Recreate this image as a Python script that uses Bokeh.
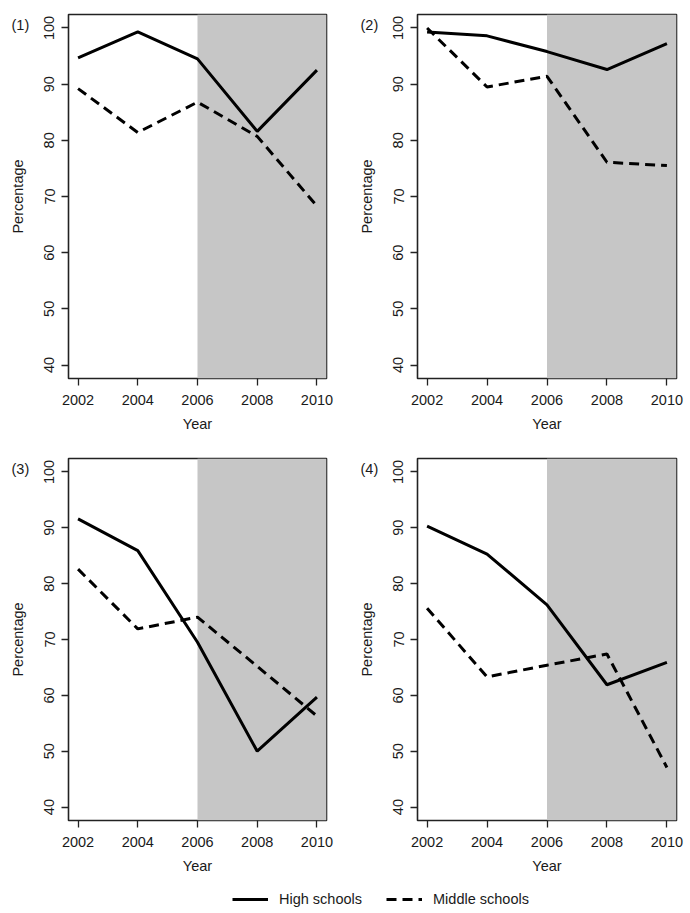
from bokeh.plotting import figure
from bokeh.models import BoxAnnotation, Title, Legend, LegendItem, FixedTicker, Range1d
from bokeh.layouts import column, row
from bokeh.embed import file_html
from bokeh.resources import INLINE

years = [2002, 2004, 2006, 2008, 2010]
panel_labels = ["(1)", "(2)", "(3)", "(4)"]
high_schools = [
    [94.7, 99.3, 94.5, 81.6, 92.5],
    [99.3, 98.6, 95.8, 92.6, 97.2],
    [91.6, 85.9, 69.5, 50.0, 59.7],
    [90.3, 85.3, 76.2, 61.9, 65.9],
]
middle_schools = [
    [89.2, 81.4, 86.8, 80.7, 68.3],
    [100.0, 89.5, 91.4, 76.1, 75.5],
    [82.6, 71.9, 74.0, 65.2, 56.3],
    [75.6, 63.3, 65.4, 67.4, 47.1],
]
x_ticks = [2002, 2004, 2006, 2008, 2010]
y_ticks = [40, 50, 60, 70, 80, 90, 100]
shade_start = 2006
legend_labels = ["High schools", "Middle schools"]

FONT = "Liberation Sans"
DASH = "10 6"


def make_panel(i, width, right_border, top_border, bottom_border):
    p = figure(width=width, height=top_border + 364 + bottom_border, output_backend="svg",
               toolbar_location=None, min_border_left=68, min_border_right=right_border,
               min_border_top=top_border, min_border_bottom=bottom_border,
               x_range=Range1d(2001.68, 2010.32), y_range=Range1d(37.6, 102.4))
    p.grid.visible = False
    p.background_fill_color = "white"
    p.border_fill_color = "white"
    p.outline_line_color = "#222222"
    p.outline_line_width = 1.6
    p.outline_line_alpha = 1.0

    shade = BoxAnnotation(left=shade_start, fill_color="#c6c6c6", fill_alpha=1.0,
                          line_color=None, level="underlay")
    p.add_layout(shade)

    p.line(years, high_schools[i], line_color="black", line_width=3)
    p.line(years, middle_schools[i], line_color="black", line_width=3, line_dash=DASH)

    for ax in (p.xaxis[0], p.yaxis[0]):
        ax.axis_line_color = None
        ax.major_tick_line_color = "#222222"
        ax.major_tick_line_width = 1.3
        ax.major_tick_in = 0
        ax.major_tick_out = 7
        ax.minor_tick_line_color = None
        ax.major_label_text_font = FONT
        ax.major_label_text_font_size = "14.5px"
        ax.major_label_text_color = "#1a1a1a"
        ax.axis_label_text_font = FONT
        ax.axis_label_text_font_size = "14.5px"
        ax.axis_label_text_font_style = "normal"
        ax.axis_label_text_color = "#1a1a1a"

    p.xaxis.ticker = FixedTicker(ticks=x_ticks)
    p.yaxis.ticker = FixedTicker(ticks=y_ticks)
    p.xaxis.axis_label = "Year"
    p.yaxis.axis_label = "Percentage"
    p.xaxis.major_label_standoff = 9
    p.xaxis.axis_label_standoff = 8
    p.yaxis.major_label_orientation = "vertical"
    p.yaxis.major_label_standoff = 7
    p.yaxis.axis_label_standoff = 16

    t = Title(text=panel_labels[i], text_font=FONT, text_font_size="14.5px",
              text_font_style="normal", text_color="#1a1a1a", align="left",
              vertical_align="bottom", offset=-57, standoff=-36)
    p.add_layout(t, "above")
    return p


p1 = make_panel(0, 349, 23, 14, 74)
p2 = make_panel(1, 339, 12, 14, 74)
p3 = make_panel(2, 349, 23, 6, 54)
p4 = make_panel(3, 339, 12, 6, 54)

leg = figure(width=688, height=36, output_backend="svg", toolbar_location=None,
             min_border=0, x_range=Range1d(0, 1), y_range=Range1d(0, 1))
leg.outline_line_color = None
leg.axis.visible = False
leg.grid.visible = False
nan = float("nan")
r_high = leg.line([nan, nan], [nan, nan], line_color="black", line_width=3)
r_mid = leg.line([nan, nan], [nan, nan], line_color="black", line_width=3, line_dash=DASH)
legend = Legend(items=[LegendItem(label=legend_labels[0], renderers=[r_high]),
                       LegendItem(label=legend_labels[1], renderers=[r_mid])],
                orientation="horizontal", location=(232, 5),
                glyph_width=36, glyph_height=14, label_height=14,
                label_standoff=11, spacing=24, padding=0, margin=0,
                label_text_font=FONT, label_text_font_size="14.5px",
                label_text_color="#1a1a1a",
                border_line_color=None, background_fill_alpha=0)
leg.add_layout(legend)

layout = column(row(p1, p2), row(p3, p4), leg)
open("out.html", "w").write(file_html(layout, INLINE))
